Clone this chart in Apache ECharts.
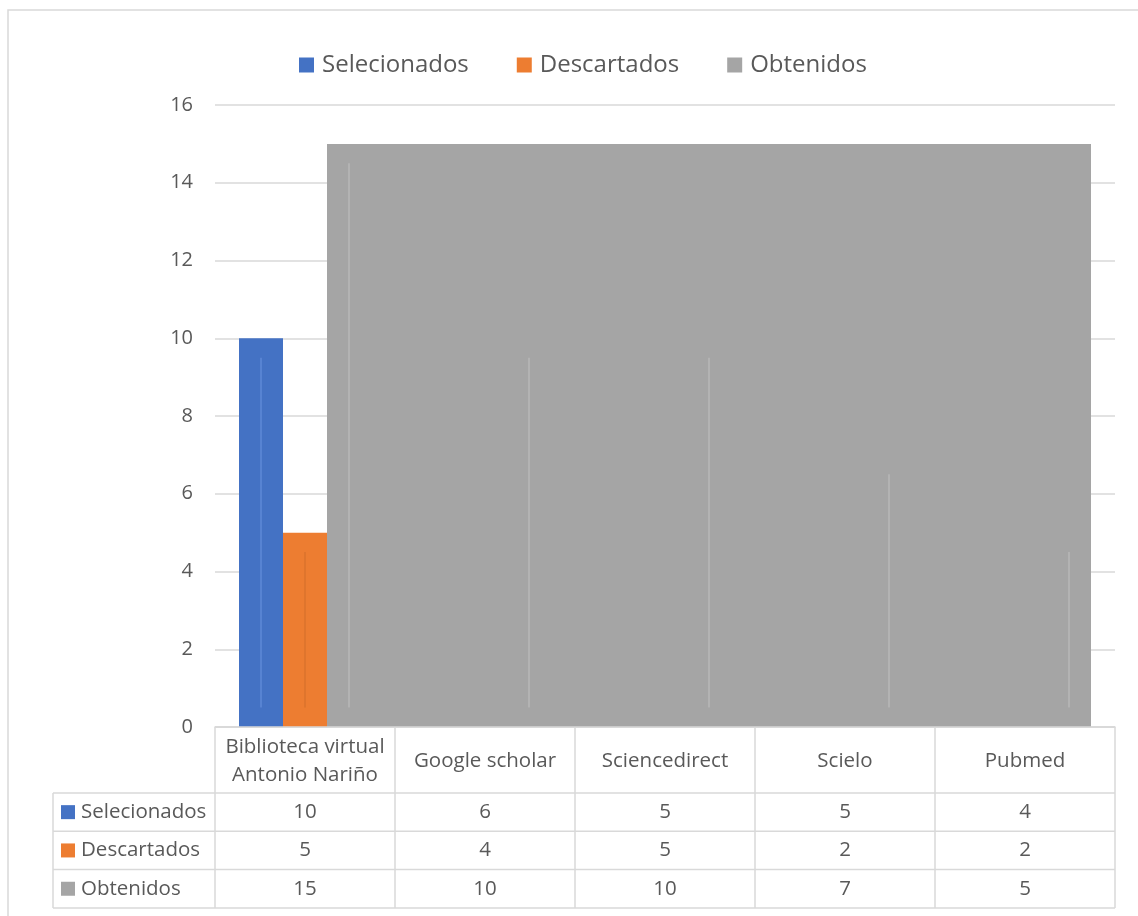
<!DOCTYPE html>
<html>
<head>
<meta charset="utf-8">
<script src="https://cdn.jsdelivr.net/npm/echarts@6/dist/echarts.min.js"></script>
<style>
  html, body { margin: 0; padding: 0; background: #fff; }
  #chart { width: 1138px; height: 916px; }
</style>
</head>
<body>
<div id="chart"></div>
<script>
  // datos
  const categorias = ['Biblioteca virtual\nAntonio Nariño', 'Google scholar', 'Sciencedirect', 'Scielo', 'Pubmed']
  const selecionados = [10, 6, 5, 5, 4]
  const descartados = [5, 4, 5, 2, 2]
  const obtenidos = [15, 10, 10, 7, 5]
  const nombres = ['Selecionados', 'Descartados', 'Obtenidos']
  const colores = ['#4472c4', '#ed7d31', '#a5a5a5']

  const font = '"Open Sans", "Noto Sans", sans-serif'
  const txt = '#595959'
  const lineCol = '#d9d9d9'
  const gridLeft = 215, gridTop = 105, gridW = 900, gridH = 622
  const bw = 44
  const catW = gridW / categorias.length

  const chart = echarts.init(document.getElementById('chart'))

  // tabla de datos debajo del eje
  const filas = [selecionados, descartados, obtenidos]
  const yAxisLine = gridTop + gridH
  const headBottom = 793
  const rowH = 38.3
  const tableLeft = 53
  const tableRight = gridLeft + gridW
  const graphic = []
  const line = (x1, y1, x2, y2) => graphic.push({
    type: 'line', shape: { x1, y1, x2, y2 },
    style: { stroke: lineCol, lineWidth: 1.5 }, z: 10
  })
  // marco exterior
  graphic.push({
    type: 'rect', shape: { x: 8, y: 10, width: 1160, height: 940 },
    style: { fill: 'none', stroke: lineCol, lineWidth: 1.5 }, z: 0
  })
  line(gridLeft, yAxisLine, tableRight, yAxisLine)
  for (let r = 0; r <= filas.length; r++) {
    const y = headBottom + r * rowH
    line(tableLeft, y, tableRight, y)
  }
  line(tableLeft, headBottom, tableLeft, headBottom + filas.length * rowH)
  for (let c = 0; c <= categorias.length; c++) {
    const x = gridLeft + c * catW
    line(x, yAxisLine, x, headBottom + filas.length * rowH)
  }
  categorias.forEach((cat, c) => {
    graphic.push({
      type: 'text', x: gridLeft + (c + 0.5) * catW, y: (yAxisLine + headBottom) / 2 + 1,
      style: { text: cat, font: '20.5px ' + font, fill: txt, align: 'center', verticalAlign: 'middle', lineHeight: 28 },
      z: 11
    })
  })
  filas.forEach((vals, r) => {
    const yc = headBottom + (r + 0.5) * rowH
    graphic.push({
      type: 'rect', shape: { x: 61, y: yc - 7, width: 14, height: 14 },
      style: { fill: colores[r] }, z: 11
    })
    graphic.push({
      type: 'text', x: 81, y: yc,
      style: { text: nombres[r], font: '20.5px ' + font, fill: txt, align: 'left', verticalAlign: 'middle' },
      z: 11
    })
    vals.forEach((v, c) => {
      graphic.push({
        type: 'text', x: gridLeft + (c + 0.5) * catW, y: yc,
        style: { text: String(v), font: '20.5px ' + font, fill: txt, align: 'center', verticalAlign: 'middle' },
        z: 11
      })
    })
  })

  // lineas tenues dentro de las barras (visibles en la imagen)
  const marcas = [[0, 0, selecionados[0]], [0, 1, descartados[0]]]
  obtenidos.forEach((v, c) => marcas.push([c, 2, v]))
  const marcaCol = ['#5f8ad8', '#d8722c', '#b9b9b9']

  chart.setOption({
    textStyle: { fontFamily: font },
    animation: false,
    legend: {
      left: 294,
      top: 48,
      itemWidth: 15,
      itemHeight: 15,
      itemGap: 48,
      icon: 'rect',
      textStyle: { fontSize: 24, color: txt, padding: [0, 0, 0, 3] },
      data: nombres
    },
    grid: { left: gridLeft, top: gridTop, width: gridW, height: gridH },
    xAxis: {
      type: 'category',
      data: categorias,
      axisTick: { show: false },
      axisLabel: { show: false },
      axisLine: { lineStyle: { color: lineCol, width: 1.5 } }
    },
    yAxis: {
      type: 'value',
      min: 0,
      max: 16,
      interval: 2,
      axisLine: { show: false },
      axisTick: { show: false },
      axisLabel: { fontSize: 20, color: txt, margin: 22 },
      splitLine: { lineStyle: { color: lineCol, width: 1.5 } }
    },
    graphic: graphic,
    series: [{
      name: nombres[0], type: 'bar', barWidth: bw, barGap: '0%',
      itemStyle: { color: colores[0] }, data: selecionados
    }, {
      name: nombres[1], type: 'bar', barWidth: bw, barGap: '0%',
      itemStyle: { color: colores[1] }, data: descartados
    }, {
      name: nombres[2], type: 'bar', barWidth: bw, barGap: '0%',
      itemStyle: { color: colores[2] }, data: obtenidos
    }, {
      // bloque gris que tapa desde la barra de Obtenidos de la primera categoria hasta la ultima
      type: 'custom',
      z: 3,
      silent: true,
      data: [[0, categorias.length - 1, obtenidos[0]]],
      encode: { x: [0, 1], y: 2 },
      renderItem(params, api) {
        const a = api.coord([api.value(0), 0])
        const b = api.coord([api.value(1), api.value(2)])
        return {
          type: 'rect',
          shape: { x: a[0] + bw / 2, y: b[1], width: b[0] + 1.5 * bw - (a[0] + bw / 2), height: a[1] - b[1] },
          style: { fill: colores[2] }
        }
      }
    }, {
      type: 'custom',
      z: 4,
      silent: true,
      data: marcas,
      encode: { x: 0, y: 2 },
      renderItem(params, api) {
        const s = api.value(1)
        const v = api.value(2)
        const p0 = api.coord([api.value(0), 0.5])
        const p1 = api.coord([api.value(0), v - 0.5])
        const x = p0[0] + (s - 1) * bw
        return {
          type: 'line',
          shape: { x1: x, y1: p0[1], x2: x, y2: p1[1] },
          style: { stroke: marcaCol[s], lineWidth: 2, opacity: 0.7 }
        }
      }
    }]
  })
</script>
</body>
</html>
